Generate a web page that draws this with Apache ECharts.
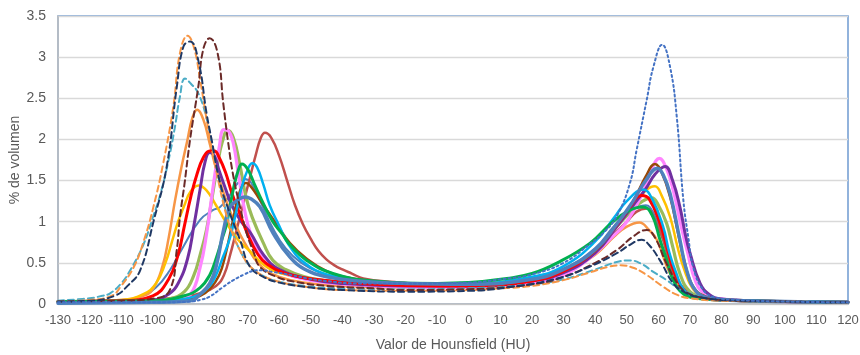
<!DOCTYPE html>
<html><head><meta charset="utf-8">
<script src="https://cdn.jsdelivr.net/npm/echarts@6/dist/echarts.min.js"></script>
<style>html,body{margin:0;padding:0;background:#fff}#c{width:860px;height:355px}</style>
</head><body><div id="c"></div>
<script>
// x ticks
var xTicks = {min:-130, max:120, step:10};
var yTicks = {min:0, max:3.5, step:0.5};

// series values: [HU, % volume]
var orangeDash = [[-130,0.03],[-120,0.05],[-113,0.1],[-110,0.22],[-106,0.45],[-103,0.75],[-100,1.15],[-96.7,1.71],[-93.5,2.4],[-91.4,3.05],[-89,3.26],[-87,3.12],[-85,2.72],[-83,2.25],[-81,1.82],[-79,1.45],[-77,1.12],[-75,0.88],[-72,0.62],[-69,0.45],[-65,0.34],[-60,0.27],[-50,0.2],[-40,0.17],[-20,0.16],[0,0.17],[10,0.19],[20,0.22],[30,0.29],[38,0.38],[44,0.45],[48,0.47],[52,0.44],[56,0.36],[61.5,0.21],[66,0.11],[70,0.07],[80,0.04],[100,0.03],[120,0.02]];
var navyDash = [[-130,0.03],[-120,0.04],[-112,0.1],[-108,0.22],[-104,0.41],[-99.8,1.0],[-95.6,1.67],[-92.4,2.64],[-90.3,3.13],[-88.2,3.19],[-85.6,2.96],[-83,2.32],[-81.4,2.0],[-78.7,1.47],[-75.6,1.1],[-72.4,0.78],[-69.2,0.45],[-65,0.33],[-60,0.26],[-50,0.2],[-40,0.17],[-20,0.15],[0,0.16],[12,0.2],[28,0.31],[38,0.45],[47,0.62],[51,0.72],[54.7,0.78],[57,0.72],[60.5,0.53],[64.7,0.25],[68,0.15],[72,0.09],[80,0.05],[100,0.03],[120,0.02]];
var maroonDash = [[-130,0.03],[-110,0.04],[-99,0.07],[-94.6,0.17],[-92.4,0.66],[-91.4,1.06],[-90,1.45],[-88.2,2.0],[-85.6,2.64],[-84,3.1],[-82,3.23],[-79.5,3.05],[-77.7,2.44],[-76.1,1.95],[-74.5,1.55],[-72.4,1.18],[-70.3,0.86],[-68,0.62],[-66.1,0.45],[-60.8,0.33],[-55,0.27],[-45,0.22],[-30,0.19],[-20,0.17],[0,0.18],[20,0.24],[30,0.33],[40,0.5],[47,0.66],[52,0.82],[56.3,0.9],[59,0.8],[62.6,0.49],[66.8,0.21],[70,0.12],[75,0.07],[80,0.05],[100,0.03],[120,0.02]];
var lightBlueDash = [[-130,0.04],[-120,0.07],[-116,0.1],[-113.5,0.13],[-110,0.25],[-107,0.42],[-103,0.72],[-100,1.05],[-97.5,1.35],[-95,1.75],[-93,2.15],[-91.5,2.5],[-89.8,2.74],[-88,2.68],[-85.6,2.56],[-83,2.26],[-81,1.88],[-79,1.5],[-77,1.15],[-75,0.9],[-72,0.62],[-69,0.45],[-65,0.34],[-60,0.27],[-50,0.21],[-40,0.19],[-20,0.18],[0,0.19],[20,0.24],[30,0.3],[40,0.42],[46.8,0.51],[51,0.53],[55,0.48],[58,0.4],[62.6,0.29],[66,0.2],[70,0.13],[75,0.07],[80,0.05],[100,0.03],[120,0.02]];
var blueDotted = [[-130,0.02],[-100,0.02],[-88,0.03],[-85,0.05],[-82,0.09],[-78,0.2],[-74.5,0.29],[-71,0.36],[-68.5,0.4],[-66,0.41],[-62,0.39],[-56,0.35],[-51,0.31],[-45,0.28],[-35.5,0.25],[-20,0.25],[0,0.26],[10,0.3],[20,0.36],[30,0.5],[38,0.72],[43,0.88],[47,1.08],[51,1.47],[53.1,1.87],[56.3,2.48],[58.4,2.88],[61.2,3.15],[63.7,2.88],[65.8,2.28],[67.9,1.26],[69.5,0.8],[71,0.45],[74.2,0.17],[78,0.08],[85,0.05],[100,0.03],[120,0.02]];
var orangeSolid = [[-130,0.03],[-110,0.05],[-103,0.1],[-100,0.18],[-97,0.45],[-95,0.8],[-93,1.25],[-91,1.65],[-89,2.0],[-87.5,2.26],[-86,2.36],[-84,2.24],[-82,1.95],[-80,1.65],[-77,1.28],[-74,0.98],[-71,0.75],[-66,0.47],[-60,0.33],[-50,0.25],[-40,0.22],[-20,0.2],[0,0.21],[20,0.27],[30,0.38],[40,0.6],[46,0.82],[50,0.94],[54,0.99],[57,0.9],[59.5,0.78],[63.7,0.37],[67.9,0.17],[72,0.08],[80,0.05],[100,0.03],[120,0.02]];
var olive = [[-130,0.03],[-100,0.04],[-95,0.06],[-90,0.15],[-87,0.35],[-85,0.6],[-83,0.9],[-81,1.35],[-79.5,1.7],[-78,1.97],[-76.3,2.11],[-74.5,2.02],[-72.5,1.7],[-70.5,1.3],[-68.5,1.05],[-65,0.74],[-62,0.53],[-58,0.42],[-52,0.33],[-45,0.28],[-35,0.25],[-20,0.23],[0,0.24],[20,0.3],[30,0.42],[40,0.65],[47,0.95],[52,1.15],[55,1.25],[57.9,1.29],[60,1.2],[62.6,0.98],[64.5,0.7],[66.8,0.37],[70,0.15],[75,0.07],[80,0.05],[100,0.03],[120,0.02]];
var pink = [[-130,0.02],[-100,0.03],[-92,0.06],[-88,0.12],[-85,0.45],[-83,0.85],[-81,1.4],[-79,1.9],[-77.5,2.12],[-76,2.1],[-74.5,1.95],[-73,1.6],[-71,1.15],[-69,0.85],[-66,0.62],[-60,0.41],[-55,0.33],[-45,0.26],[-30,0.22],[-10,0.2],[0,0.2],[20,0.25],[30,0.35],[38,0.55],[45,0.8],[50,1.0],[55,1.35],[58,1.65],[60.3,1.77],[62.5,1.65],[64.7,1.38],[67,0.98],[69,0.66],[72,0.25],[75,0.12],[80,0.06],[100,0.03],[120,0.02]];
var red = [[-130,0.03],[-110,0.04],[-100,0.1],[-95,0.3],[-92,0.6],[-90,0.95],[-88,1.3],[-86,1.58],[-84,1.78],[-82,1.86],[-80.5,1.86],[-79,1.78],[-77,1.6],[-75,1.35],[-72.5,1.1],[-70,0.85],[-67,0.62],[-64,0.49],[-57,0.36],[-46,0.29],[-30,0.24],[-10,0.22],[0,0.22],[20,0.28],[30,0.4],[40,0.65],[46,0.92],[50,1.12],[54.7,1.32],[57,1.28],[60.5,0.98],[63,0.65],[65.2,0.37],[68,0.18],[72,0.08],[80,0.05],[100,0.03],[120,0.02]];
var purple = [[-130,0.03],[-100,0.05],[-95,0.12],[-92,0.25],[-89,0.55],[-87,0.95],[-85,1.4],[-83.5,1.72],[-82,1.84],[-80.5,1.8],[-79,1.62],[-77,1.4],[-75,1.2],[-72,1.0],[-69,0.86],[-65,0.6],[-60,0.42],[-50,0.3],[-40,0.25],[-20,0.22],[0,0.22],[20,0.28],[30,0.38],[40,0.62],[47,0.95],[52,1.2],[56,1.4],[59,1.58],[62.1,1.67],[64.5,1.5],[66.8,1.18],[68.5,0.85],[70,0.62],[73.2,0.25],[76.3,0.11],[80,0.06],[90,0.04],[100,0.03],[120,0.02]];
var brick = [[-130,0.02],[-110,0.03],[-100,0.05],[-90,0.09],[-85,0.13],[-80,0.22],[-77.5,0.35],[-75.5,0.6],[-73.5,0.9],[-71.5,1.2],[-69.5,1.5],[-67.5,1.8],[-65.8,2.02],[-64.5,2.08],[-62.5,2.02],[-60,1.8],[-57.5,1.5],[-55,1.2],[-52.5,0.97],[-50,0.79],[-47.5,0.64],[-45,0.54],[-42.5,0.47],[-40,0.42],[-37,0.37],[-33.4,0.31],[-25,0.27],[-10,0.24],[0,0.24],[20,0.29],[30,0.4],[40,0.62],[46,0.85],[50,1.0],[53,1.12],[56.3,1.16],[58.5,1.05],[61.5,0.78],[64,0.45],[67,0.2],[71,0.09],[80,0.05],[100,0.03],[120,0.02]];
var green = [[-130,0.03],[-100,0.04],[-90,0.1],[-85,0.2],[-82,0.35],[-79.8,0.57],[-78,0.8],[-76.6,0.98],[-74.5,1.4],[-73,1.62],[-71.8,1.7],[-70,1.64],[-68,1.47],[-65,1.22],[-62,1.0],[-59,0.85],[-56.6,0.72],[-51.3,0.53],[-43,0.37],[-30,0.28],[-10,0.25],[0,0.26],[12,0.31],[20,0.37],[28,0.5],[38.4,0.74],[45,0.98],[50,1.12],[55.2,1.18],[58,1.08],[60.5,0.78],[62.5,0.55],[64.7,0.29],[68,0.12],[72,0.07],[80,0.05],[100,0.03],[120,0.02]];
var cyan = [[-130,0.02],[-100,0.03],[-90,0.06],[-85,0.12],[-82,0.22],[-80,0.35],[-78,0.55],[-75.6,0.8],[-73.5,1.14],[-72,1.4],[-70,1.63],[-68.5,1.71],[-67,1.66],[-65,1.45],[-63,1.2],[-60,0.95],[-57,0.72],[-52,0.5],[-45,0.36],[-35,0.29],[-20,0.25],[0,0.25],[20,0.33],[30,0.46],[40,0.76],[46,1.05],[50,1.25],[55.2,1.39],[58,1.28],[61.5,0.94],[63.5,0.62],[65.7,0.37],[68,0.18],[72,0.08],[80,0.05],[100,0.03],[120,0.02]];
var brown = [[-130,0.02],[-100,0.03],[-90,0.05],[-85,0.1],[-82,0.18],[-79,0.35],[-77,0.6],[-75,0.95],[-73,1.3],[-71.5,1.45],[-70.5,1.47],[-69,1.43],[-66,1.26],[-61,0.98],[-56.6,0.74],[-51.3,0.55],[-45,0.4],[-38,0.32],[-25,0.26],[0,0.24],[20,0.3],[30,0.42],[40,0.65],[47,0.98],[52,1.25],[56,1.55],[58.9,1.7],[61,1.6],[63.7,1.3],[66,0.9],[67.9,0.57],[71,0.21],[75,0.09],[80,0.05],[100,0.03],[120,0.02]];
var blueThick = [[-130,0.01],[-100,0.02],[-88,0.04],[-85,0.12],[-82,0.25],[-80,0.45],[-77.6,0.9],[-75.6,1.18],[-73.5,1.25],[-71,1.3],[-69,1.28],[-66.1,1.18],[-61.9,0.86],[-56.6,0.57],[-51.3,0.41],[-45,0.33],[-35,0.28],[-20,0.25],[0,0.24],[20,0.3],[30,0.42],[40,0.66],[47,0.98],[52,1.25],[56,1.5],[59.7,1.65],[61.5,1.57],[63.7,1.34],[66.8,0.78],[69,0.4],[72,0.15],[76,0.07],[80,0.05],[100,0.03],[120,0.02]];
var yellow = [[-130,0.03],[-110,0.05],[-103,0.12],[-99,0.25],[-96,0.5],[-94,0.75],[-92,1.0],[-90,1.2],[-88,1.37],[-85.5,1.44],[-83,1.38],[-80,1.2],[-76.6,0.98],[-73,0.78],[-69.2,0.64],[-65,0.48],[-60,0.38],[-50,0.3],[-40,0.26],[-20,0.23],[0,0.23],[20,0.29],[30,0.4],[40,0.64],[47,0.95],[52,1.2],[56,1.38],[58.9,1.43],[61,1.32],[63.7,1.06],[66,0.7],[67.9,0.45],[71,0.18],[75,0.08],[80,0.05],[100,0.03],[120,0.02]];
var blueThin = [[-130,0.02],[-110,0.04],[-104,0.09],[-99,0.2],[-94.6,0.41],[-90.3,0.7],[-85.1,1.02],[-81,1.14],[-78.7,1.18],[-76,1.3],[-73.5,1.45],[-71,1.52],[-69,1.48],[-66,1.25],[-62,0.92],[-58,0.68],[-53,0.5],[-47,0.38],[-40,0.31],[-30,0.26],[0,0.24],[20,0.3],[30,0.43],[40,0.68],[46,0.95],[51,1.12],[56,1.2],[58.5,1.1],[61,0.85],[64,0.45],[67,0.2],[71,0.09],[80,0.05],[100,0.03],[120,0.02]];

var seriesDefs = [
  {name:'Azul ancho', data:blueThin, color:'#4F81BD', w:2, type:'solid'},
  {name:'Ladrillo', data:brick, color:'#C0504D', w:2.5, type:'solid'},
  {name:'Naranja', data:orangeSolid, color:'#F79646', w:2.5, type:'solid'},
  {name:'Amarillo', data:yellow, color:'#FFC000', w:2.5, type:'solid'},
  {name:'Oliva', data:olive, color:'#9BBB59', w:3.2, type:'solid'},
  {name:'Rosa', data:pink, color:'#FF85FF', w:3.2, type:'solid'},
  {name:'Morado', data:purple, color:'#7030A0', w:3, type:'solid'},
  {name:'Rojo', data:red, color:'#FF0000', w:3, type:'solid'},
  {name:'Marrón', data:brown, color:'#984807', w:2.5, type:'solid'},
  {name:'Cian', data:cyan, color:'#00B0F0', w:2.5, type:'solid'},
  {name:'Verde', data:green, color:'#00B050', w:3, type:'solid'},
  {name:'Azul', data:blueThick, color:'#4F81BD', w:3.5, type:'solid'},
  {name:'Celeste disc.', data:lightBlueDash, color:'#4BACC6', w:2, type:[6,4]},
  {name:'Naranja disc.', data:orangeDash, color:'#F79646', w:2, type:[6,4]},
  {name:'Granate disc.', data:maroonDash, color:'#6B2A28', w:2, type:[6,4]},
  {name:'Marino disc.', data:navyDash, color:'#1F3864', w:2, type:[6,4]},
  {name:'Azul punt.', data:blueDotted, color:'#4472C4', w:2, type:[2,3]}
];

var chart = echarts.init(document.getElementById('c'), null, {renderer:'canvas'});
var lab = {color:'#595959', fontFamily:'Liberation Sans, Arial, sans-serif'};
chart.setOption({
  animation:false,
  backgroundColor:'#ffffff',
  grid:{left:58, right:12, top:16, bottom:51, containLabel:false, outerBoundsMode:'none',
    show:true, borderColor:'#6F9BD1', borderWidth:1.5, backgroundColor:'transparent'},
  xAxis:{type:'value', min:xTicks.min, max:xTicks.max, interval:xTicks.step,
    name:'Valor de Hounsfield (HU)', nameLocation:'middle', nameGap:34, nameMoveOverlap:false,
    nameTextStyle:Object.assign({fontSize:14}, lab),
    axisLine:{show:true, onZero:false, lineStyle:{color:'#BFBFBF', width:1.5}},
    axisTick:{show:false}, splitLine:{show:false},
    axisLabel:Object.assign({fontSize:13, margin:10}, lab)},
  yAxis:{type:'value', min:yTicks.min, max:yTicks.max, interval:yTicks.step,
    name:'% de volumen', nameLocation:'middle', nameGap:36, nameMoveOverlap:false,
    nameTextStyle:Object.assign({fontSize:14}, lab),
    axisLine:{show:true, onZero:false, lineStyle:{color:'#BFBFBF', width:1.5}},
    axisTick:{show:false},
    splitLine:{show:true, lineStyle:{color:'#D9D9D9', width:1.3}},
    axisLabel:Object.assign({fontSize:14, margin:12}, lab)},
  series: seriesDefs.map(function(s){
    return {name:s.name, type:'line', data:s.data, smooth:0.45, showSymbol:false, symbol:'none',
      lineStyle:{color:s.color, width:s.w, type:s.type, cap:'round', join:'round'}, itemStyle:{color:s.color}, z:2};
  })
});
</script></body></html>
